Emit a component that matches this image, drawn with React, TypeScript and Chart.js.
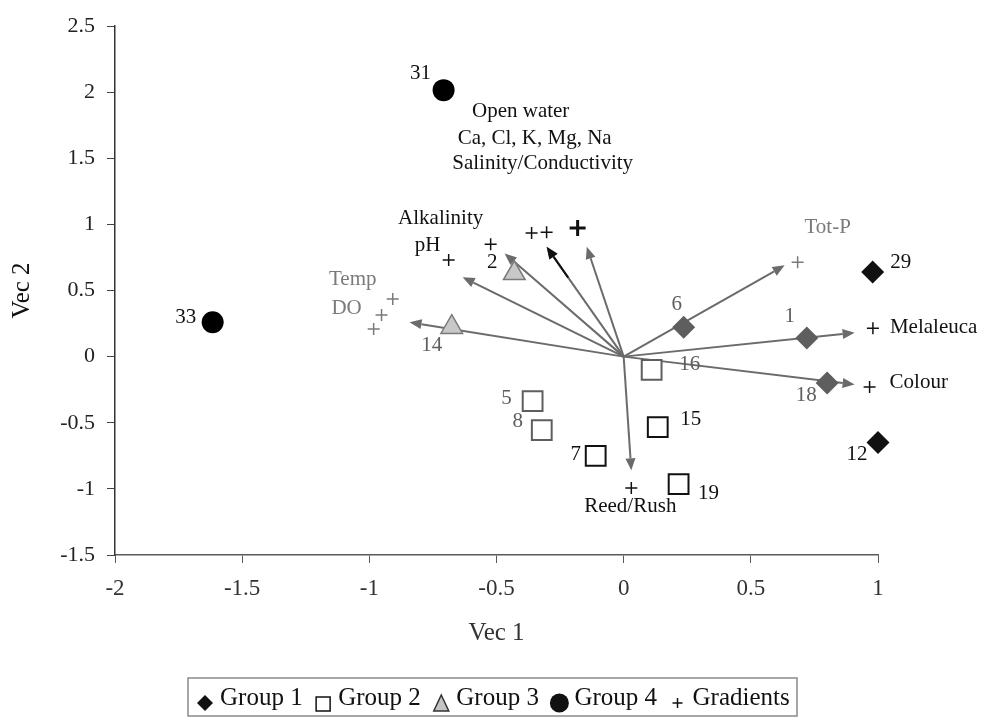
import { useEffect, useRef } from "react";
import { Chart, registerables } from "chart.js";

Chart.register(...registerables);

// ---------- data ----------
const X_TICKS = [-2, -1.5, -1, -0.5, 0, 0.5, 1];
const X_TICK_LABELS = ["-2", "-1.5", "-1", "-0.5", "0", "0.5", "1"];
const Y_TICKS = [-1.5, -1, -0.5, 0, 0.5, 1, 1.5, 2, 2.5];
const Y_TICK_LABELS = ["-1.5", "-1", "-0.5", "0", "0.5", "1", "1.5", "2", "2.5"];

const GROUP1_IDS = ["29", "1", "18", "6", "12"];
const GROUP1_X = [0.979, 0.72, 0.8, 0.236, 1.0];
const GROUP1_Y = [0.64, 0.14, -0.2, 0.223, -0.65];

const GROUP2_IDS = ["16", "5", "8", "7", "15", "19"];
const GROUP2_X = [0.11, -0.358, -0.322, -0.11, 0.134, 0.216];
const GROUP2_Y = [-0.1, -0.337, -0.556, -0.75, -0.533, -0.964];

const GROUP3_IDS = ["2", "14"];
const GROUP3_X = [-0.43, -0.676];
const GROUP3_Y = [0.63, 0.223];

const GROUP4_IDS = ["31", "33"];
const GROUP4_X = [-0.708, -1.616];
const GROUP4_Y = [2.015, 0.26];

const GRADIENT_X = [0.98, 0.967, 0.684, 0.03, -0.908, -0.952, -0.983, -0.688, -0.523, -0.362, -0.303, -0.181];
const GRADIENT_Y = [0.215, -0.23, 0.714, -0.994, 0.435, 0.314, 0.208, 0.73, 0.85, 0.934, 0.941, 0.972];

const VECTOR_X = [-0.842, -0.633, -0.468, -0.303, -0.145, 0.633, 0.908, 0.908, 0.03];
const VECTOR_Y = [0.26, 0.6, 0.78, 0.83, 0.83, 0.69, 0.18, -0.21, -0.86];

const NOTE_TEXT = ["Open water", "Ca, Cl, K, Mg, Na", "Salinity/Conductivity"];
const NOTE_X = [-0.405, -0.35, -0.3185];
const NOTE_Y = [1.856, 1.653, 1.463];

const LEGEND_LABELS = ["Group 1", "Group 2", "Group 3", "Group 4", "Gradients"];

// ---------- styles ----------
const SERIF = '"Liberation Serif", "Times New Roman", serif';
const BLACK = "#111111";
const GRAY = "#5e5e5e";
const LIGHT = "#7a7a7a";

const G1_COLORS = [BLACK, GRAY, GRAY, GRAY, BLACK];
const G2_COLORS = [GRAY, GRAY, GRAY, BLACK, BLACK, BLACK];
const GRAD_COLORS = [BLACK, BLACK, LIGHT, BLACK, LIGHT, LIGHT, LIGHT, BLACK, BLACK, BLACK, BLACK, BLACK];
const GRAD_RADIUS = [6, 6, 6, 6, 6, 6, 6, 6, 6, 6, 6, 8];
const GRAD_WIDTH = [1.5, 1.5, 1.5, 1.5, 1.5, 1.5, 1.5, 1.5, 1.5, 1.5, 1.5, 3];

// id -> label offset (px) & colour
const POINT_LABEL_STYLE: Record<string, { dx: number; dy: number; color: string }> = {
  "31": { dx: -23, dy: -17, color: BLACK },
  "33": { dx: -27, dy: -5, color: BLACK },
  "29": { dx: 28, dy: -10, color: BLACK },
  "1": { dx: -17, dy: -22, color: GRAY },
  "6": { dx: -7, dy: -23, color: GRAY },
  "18": { dx: -21, dy: 12, color: GRAY },
  "12": { dx: -21, dy: 12, color: BLACK },
  "16": { dx: 38, dy: -5, color: GRAY },
  "15": { dx: 33, dy: -8, color: BLACK },
  "19": { dx: 30, dy: 9, color: BLACK },
  "5": { dx: -26, dy: -3, color: GRAY },
  "8": { dx: -24, dy: -9, color: GRAY },
  "7": { dx: -20, dy: -1, color: BLACK },
  "2": { dx: -22, dy: -11, color: BLACK },
  "14": { dx: -20, dy: 18, color: GRAY },
};

const GRADIENT_LABELS = [
  { text: "Melaleuca", idx: 0, dx: 17, dy: -1, align: "left", color: BLACK },
  { text: "Colour", idx: 1, dx: 20, dy: -5, align: "left", color: BLACK },
  { text: "Tot-P", idx: 2, dx: 30, dy: -35, align: "center", color: LIGHT },
  { text: "Reed/Rush", idx: 3, dx: -1, dy: 18, align: "center", color: BLACK },
  { text: "Temp", idx: 4, dx: -40, dy: -20, align: "center", color: LIGHT },
  { text: "DO", idx: 5, dx: -35, dy: -7, align: "center", color: LIGHT },
  { text: "Alkalinity", idx: 7, dx: -8, dy: -42, align: "center", color: BLACK },
  { text: "pH", idx: 7, dx: -21, dy: -15, align: "center", color: BLACK },
];

function drawArrow(ctx: CanvasRenderingContext2D, x0: number, y0: number, x1: number, y1: number, color: string) {
  const ang = Math.atan2(y1 - y0, x1 - x0);
  const len = 12;
  const half = 5;
  const bx = x1 - Math.cos(ang) * len;
  const by = y1 - Math.sin(ang) * len;
  ctx.save();
  ctx.strokeStyle = color;
  ctx.fillStyle = color;
  ctx.lineWidth = 2;
  ctx.beginPath();
  ctx.moveTo(x0, y0);
  ctx.lineTo(bx, by);
  ctx.stroke();
  ctx.beginPath();
  ctx.moveTo(x1, y1);
  ctx.lineTo(bx + Math.sin(ang) * half, by - Math.cos(ang) * half);
  ctx.lineTo(bx - Math.sin(ang) * half, by + Math.cos(ang) * half);
  ctx.closePath();
  ctx.fill();
  ctx.restore();
}

const overlayPlugin = {
  id: "overlay",
  beforeDatasetsDraw(chart: any) {
    const { ctx, scales } = chart;
    const sx = scales.x;
    const sy = scales.y;
    const ox = sx.getPixelForValue(0);
    const oy = sy.getPixelForValue(0);
    VECTOR_X.forEach((vx, i) => {
      const tx = sx.getPixelForValue(vx);
      const ty = sy.getPixelForValue(VECTOR_Y[i]);
      drawArrow(ctx, ox, oy, tx, ty, "#6b6b6b");
      if (i === 3) {
        const mx = ox + (tx - ox) * 0.72;
        const my = oy + (ty - oy) * 0.72;
        drawArrow(ctx, mx, my, tx, ty, "#111111");
      }
    });
  },
  afterDatasetsDraw(chart: any) {
    const { ctx, scales } = chart;
    const sx = scales.x;
    const sy = scales.y;
    ctx.save();
    ctx.font = `21px ${SERIF}`;
    ctx.textBaseline = "middle";
    const groups: [string[], number[], number[]][] = [
      [GROUP1_IDS, GROUP1_X, GROUP1_Y],
      [GROUP2_IDS, GROUP2_X, GROUP2_Y],
      [GROUP3_IDS, GROUP3_X, GROUP3_Y],
      [GROUP4_IDS, GROUP4_X, GROUP4_Y],
    ];
    groups.forEach(([ids, xs, ys]) => {
      ids.forEach((id, i) => {
        const st = POINT_LABEL_STYLE[id];
        ctx.fillStyle = st.color;
        ctx.textAlign = "center";
        ctx.fillText(id, sx.getPixelForValue(xs[i]) + st.dx, sy.getPixelForValue(ys[i]) + st.dy);
      });
    });
    GRADIENT_LABELS.forEach((g) => {
      ctx.fillStyle = g.color;
      ctx.textAlign = g.align as CanvasTextAlign;
      ctx.fillText(g.text, sx.getPixelForValue(GRADIENT_X[g.idx]) + g.dx, sy.getPixelForValue(GRADIENT_Y[g.idx]) + g.dy);
    });
    ctx.fillStyle = BLACK;
    ctx.textAlign = "center";
    NOTE_TEXT.forEach((t, i) => {
      ctx.fillText(t, sx.getPixelForValue(NOTE_X[i]), sy.getPixelForValue(NOTE_Y[i]));
    });
    ctx.restore();
  },
  afterDraw(chart: any) {
    const { ctx } = chart;
    ctx.save();
    ctx.strokeStyle = "#8a8a8a";
    ctx.lineWidth = 1.5;
    ctx.strokeRect(188, 678, 609, 38);
    ctx.font = `25px ${SERIF}`;
    ctx.textBaseline = "alphabetic";
    ctx.textAlign = "left";
    let mx = 205;
    const my = 703;
    LEGEND_LABELS.forEach((label, i) => {
      ctx.fillStyle = BLACK;
      ctx.strokeStyle = BLACK;
      ctx.lineWidth = 1.5;
      ctx.beginPath();
      if (i === 0) {
        ctx.moveTo(mx, my - 8);
        ctx.lineTo(mx + 8, my);
        ctx.lineTo(mx, my + 8);
        ctx.lineTo(mx - 8, my);
        ctx.closePath();
        ctx.fill();
      } else if (i === 1) {
        ctx.fillStyle = "#ffffff";
        ctx.rect(mx - 7, my - 6, 14, 14);
        ctx.fill();
        ctx.stroke();
      } else if (i === 2) {
        ctx.fillStyle = "#c4c4c4";
        ctx.strokeStyle = "#333333";
        ctx.moveTo(mx, my - 8);
        ctx.lineTo(mx + 7.5, my + 8);
        ctx.lineTo(mx - 7.5, my + 8);
        ctx.closePath();
        ctx.fill();
        ctx.stroke();
      } else if (i === 3) {
        ctx.arc(mx, my, 9.5, 0, Math.PI * 2);
        ctx.fill();
      } else {
        ctx.moveTo(mx - 5, my);
        ctx.lineTo(mx + 5, my);
        ctx.moveTo(mx, my - 5);
        ctx.lineTo(mx, my + 5);
        ctx.stroke();
      }
      ctx.fillStyle = BLACK;
      const tx = mx + 15;
      ctx.fillText(label, tx, 705);
      const w = ctx.measureText(label).width;
      mx = tx + w + 20.5;
    });
    ctx.restore();
  },
};

export default function App() {
  const canvasRef = useRef<HTMLCanvasElement | null>(null);

  useEffect(() => {
    document.body.style.margin = "0";
    const canvas = canvasRef.current;
    if (!canvas) return;

    const toPts = (xs: number[], ys: number[]) => xs.map((x, i) => ({ x, y: ys[i] }));

    const chart = new Chart(canvas, {
      type: "scatter",
      data: {
        datasets: [
          {
            label: "Group 1",
            data: toPts(GROUP1_X, GROUP1_Y),
            pointStyle: "rectRot",
            pointRadius: 11.5,
            pointBackgroundColor: G1_COLORS,
            pointBorderColor: G1_COLORS,
            pointBorderWidth: 0,
            clip: false,
          },
          {
            label: "Group 2",
            data: toPts(GROUP2_X, GROUP2_Y),
            pointStyle: "rect",
            pointRadius: 14,
            pointBackgroundColor: "#ffffff",
            pointBorderColor: G2_COLORS,
            pointBorderWidth: 2,
            clip: false,
          },
          {
            label: "Group 3",
            data: toPts(GROUP3_X, GROUP3_Y),
            pointStyle: "triangle",
            pointRadius: 12.5,
            pointBackgroundColor: "#c8c8c8",
            pointBorderColor: "#7a7a7a",
            pointBorderWidth: 1.5,
            clip: false,
          },
          {
            label: "Group 4",
            data: toPts(GROUP4_X, GROUP4_Y),
            pointStyle: "circle",
            pointRadius: 11,
            pointBackgroundColor: "#000000",
            pointBorderColor: "#000000",
            pointBorderWidth: 0,
            clip: false,
          },
          {
            label: "Gradients",
            data: toPts(GRADIENT_X, GRADIENT_Y),
            pointStyle: "cross",
            pointRadius: GRAD_RADIUS,
            pointBorderColor: GRAD_COLORS,
            pointBorderWidth: GRAD_WIDTH,
            clip: false,
          },
        ],
      },
      options: {
        animation: false,
        responsive: false,
        events: [],
        layout: { padding: { top: 26, right: 106, bottom: 76, left: 0 } },
        plugins: {
          legend: { display: false },
          tooltip: { enabled: false },
        },
        scales: {
          x: {
            type: "linear",
            min: -2,
            max: 1,
            afterBuildTicks: (s: any) => {
              s.ticks = X_TICKS.map((v) => ({ value: v }));
            },
            afterFit: (s: any) => {
              s.height = 93;
            },
            border: { display: true, color: "#5a5a5a", width: 1.5 },
            grid: { display: true, drawOnChartArea: false, drawTicks: true, tickLength: 8, color: "#5a5a5a" },
            ticks: {
              color: "#333",
              font: { family: SERIF, size: 23 },
              padding: 12,
              maxRotation: 0,
              callback: (_v: any, i: number) => X_TICK_LABELS[i],
            },
            title: { display: true, text: "Vec 1", color: "#333", font: { family: SERIF, size: 25 }, padding: { top: 0, bottom: 0 } },
          },
          y: {
            type: "linear",
            min: -1.5,
            max: 2.5,
            afterBuildTicks: (s: any) => {
              s.ticks = Y_TICKS.map((v) => ({ value: v }));
            },
            afterFit: (s: any) => {
              s.width = 115;
            },
            border: { display: true, color: "#333", width: 1.5 },
            grid: { display: true, drawOnChartArea: false, drawTicks: true, tickLength: 8, color: "#444" },
            ticks: {
              color: "#222",
              font: { family: SERIF, size: 22 },
              padding: 12,
              callback: (_v: any, i: number) => Y_TICK_LABELS[i],
            },
            title: { display: true, text: "Vec 2", color: "#111", font: { family: SERIF, size: 25 }, padding: { top: 7, bottom: 0 } },
          },
        },
      },
      plugins: [overlayPlugin],
    });

    return () => {
      chart.destroy();
    };
  }, []);

  return (
    <div style={{ width: 984, height: 724, background: "#ffffff" }}>
      <canvas ref={canvasRef} width={984} height={724} style={{ display: "block" }} />
    </div>
  );
}
